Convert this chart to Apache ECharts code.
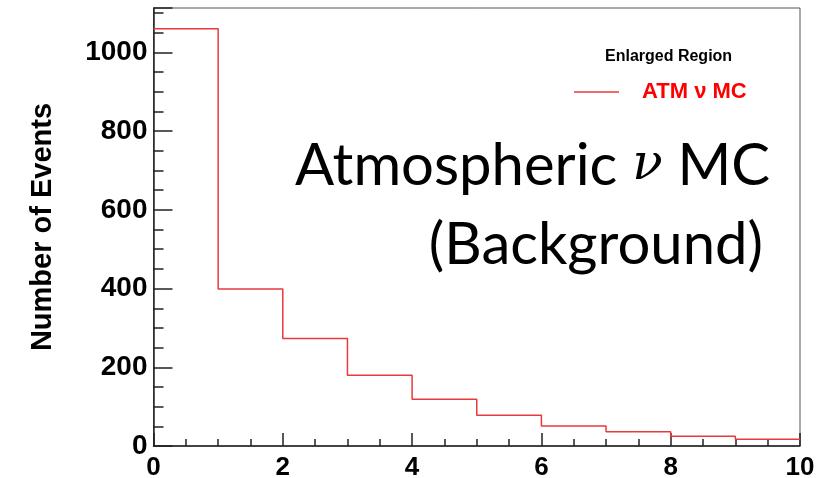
<!DOCTYPE html>
<html lang="en">
<head>
<meta charset="UTF-8">
<title>Atmospheric nu MC</title>
<script src="https://cdn.jsdelivr.net/npm/echarts@6/dist/echarts.min.js"></script>
<style>
  html, body { margin: 0; padding: 0; background: #fff; }
  #main { width: 838px; height: 478px; }
</style>
</head>
<body>
<div id="main"></div>
<script>
// bin edges (lower edge of each unit-wide bin) and counts
var binStarts = [0, 1, 2, 3, 4, 5, 6, 7, 8, 9];
var binCounts = [1060, 399, 273, 180, 119, 78, 51, 36, 25, 17];
var xEnd = 10;
var seriesName = 'ATM \u03bd MC';

// step points: one per bin plus closing point at the right edge
var stepData = [];
for (var i = 0; i < binStarts.length; i++) {
    stepData.push([binStarts[i], binCounts[i]]);
}
stepData.push([xEnd, binCounts[binCounts.length - 1]]);

var chart = echarts.init(document.getElementById('main'));
var boldFont = 'Liberation Sans';
var red = '#e8393c';

var option = {
    backgroundColor: '#fff',
    animation: false,
    grid: {
        left: 153.5, right: 38, top: 8, bottom: 32,
        outerBoundsMode: 'none',
        show: true, borderColor: '#555', borderWidth: 1
    },
    legend: {
        left: 569, top: 76,
        itemWidth: 45, itemHeight: 1.5,
        icon: 'rect',
        data: [seriesName],
        itemStyle: { color: red },
        textStyle: { color: '#ff0000', fontFamily: boldFont, fontWeight: 'bold', fontSize: 22, padding: [0, 0, 0, 18] }
    },
    xAxis: {
        type: 'value', min: 0, max: 10, interval: 2,
        axisLine: { lineStyle: { color: '#222', width: 1.5 } },
        axisTick: { inside: true, length: 13, lineStyle: { color: '#222', width: 1.5 } },
        minorTick: { show: true, splitNumber: 4, length: 7, lineStyle: { color: '#222', width: 1.5 } },
        splitLine: { show: false },
        axisLabel: { color: '#000', fontFamily: boldFont, fontWeight: 'bold', fontSize: 26, margin: 9 }
    },
    yAxis: [{
        type: 'value', min: 0, max: 1113, interval: 200,
        name: 'Number of Events', nameLocation: 'middle', nameGap: 96,
        nameTextStyle: { color: '#000', fontFamily: boldFont, fontWeight: 'bold', fontSize: 29 },
        axisLine: { show: true, lineStyle: { color: '#222', width: 1.5 } },
        axisTick: { show: true, inside: true, length: 19, lineStyle: { color: '#222', width: 1.5 } },
        splitLine: { show: false },
        axisLabel: {
            color: '#000', fontFamily: boldFont, fontWeight: 'bold', fontSize: 28, margin: 6,
            formatter: function (v) { return v % 200 === 0 ? v : ''; }
        }
    }, {
        type: 'value', min: 0, max: 1113, interval: 50, position: 'left', offset: 0,
        axisLine: { show: false },
        axisTick: { show: true, inside: true, length: 10, lineStyle: { color: '#222', width: 1.5 } },
        splitLine: { show: false },
        axisLabel: { show: false }
    }],
    graphic: [{
        type: 'text', left: 605, top: 49,
        style: { text: 'Enlarged Region', fill: '#000', font: 'bold 16px "Liberation Sans"' }
    }, {
        type: 'text', right: 68, top: 137,
        style: {
            text: '{a|Atmospheric }{b|\u03bd}{a| MC}',
            rich: {
                a: { fontFamily: 'Lato', fontSize: 58, fill: '#000' },
                b: { fontFamily: 'DejaVu Serif', fontStyle: 'italic', fontSize: 50, fill: '#000' }
            }
        }
    }, {
        type: 'text', right: 75, top: 216,
        style: { text: '(Background)', fill: '#000', font: '58px Lato' }
    }],
    series: [{
        name: seriesName,
        type: 'line',
        step: 'end',
        symbol: 'none',
        data: stepData,
        lineStyle: { color: red, width: 1.5 },
        itemStyle: { color: red }
    }]
};
chart.setOption(option);
</script>
</body>
</html>
